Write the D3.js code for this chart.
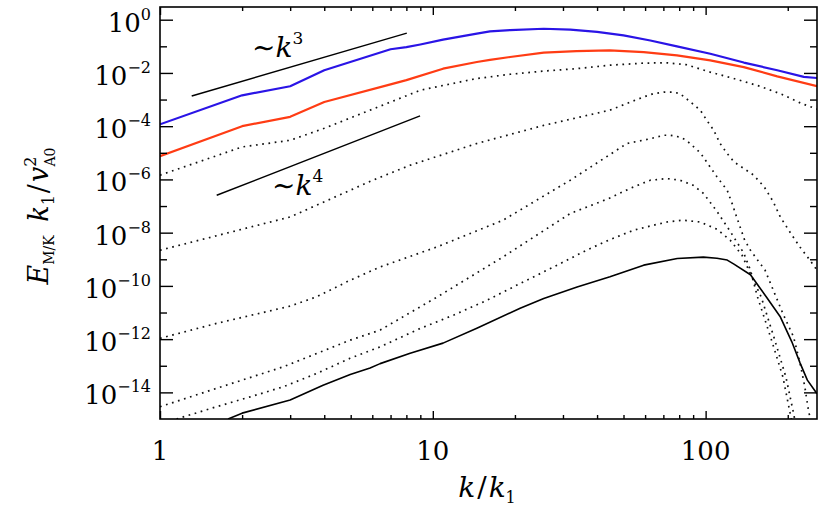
<!DOCTYPE html>
<html>
<head>
<meta charset="utf-8">
<script src="https://cdn.jsdelivr.net/npm/d3@7"></script>
<style>
body { margin: 0; background: #fff; }
text { font-family: "DejaVu Serif", "Liberation Serif", serif; fill: #000; }
</style>
</head>
<body>
<script>

// values: wavenumber k/k1 and log10 of the spectrum
var blueK   = [1, 2, 3, 4, 7, 8, 9, 10.9, 14.5, 16.2, 19.2, 25.5, 31.9, 40, 50, 62.7, 78.5, 104, 138, 183, 229, 256];
var blueLog = [-3.93, -2.84, -2.50, -1.90, -1.11, -1.03, -0.93, -0.75, -0.52, -0.44, -0.39, -0.34, -0.37, -0.46, -0.59, -0.78, -1.00, -1.28, -1.61, -1.90, -2.15, -2.19];

var redK   = [1, 2, 3, 4, 7, 8, 10.9, 14.5, 16.2, 19.2, 25.5, 33.6, 44.5, 59.3, 78.5, 104, 138, 183, 256];
var redLog = [-5.13, -4.00, -3.65, -3.09, -2.43, -2.27, -1.84, -1.59, -1.51, -1.40, -1.24, -1.18, -1.15, -1.22, -1.34, -1.53, -1.78, -2.13, -2.50];

var dot1K   = [1, 2, 3, 4, 9, 10.9, 14.5, 19.2, 25.5, 33.6, 44.5, 59.3, 72, 85, 104, 126, 158, 190, 225, 256];
var dot1Log = [-5.84, -4.78, -4.53, -4.08, -2.65, -2.47, -2.21, -2.05, -1.93, -1.84, -1.71, -1.63, -1.62, -1.69, -1.97, -2.20, -2.50, -2.80, -3.15, -3.36];

var dot2K   = [1, 2, 3, 5.9, 8.24, 14.5, 25.5, 44.5, 59.3, 64.3, 70.4, 76, 80.6, 88, 95.6, 101, 107, 113, 120, 127, 138, 150, 164, 177, 188, 205, 222, 241, 256];
var dot2Log = [-8.66, -7.87, -7.41, -6.07, -5.47, -4.65, -3.97, -3.40, -2.90, -2.78, -2.72, -2.72, -2.78, -3.09, -3.40, -3.78, -4.15, -4.65, -5.03, -5.34, -5.59, -5.84, -6.28, -6.84, -7.42, -8.02, -8.55, -9.03, -9.41];

var dot3K   = [1, 1.61, 3, 3.75, 4.97, 6.41, 10.4, 18.1, 31.9, 51.5, 62.7, 70.4, 74, 80.6, 85, 95.6, 110, 120, 125, 130, 139, 146, 155, 165, 177, 192, 210, 222, 231, 238, 242];
var dot3Log = [-11.97, -11.41, -10.76, -10.41, -9.79, -9.29, -8.53, -7.53, -6.03, -4.65, -4.47, -4.34, -4.34, -4.41, -4.53, -5.00, -5.90, -6.41, -6.90, -7.42, -8.28, -8.66, -9.03, -9.40, -10.16, -11.04, -11.91, -12.91, -13.79, -14.66, -15.0];

var dot4K   = [1, 1.61, 2.83, 4.97, 6.41, 10.4, 18.1, 31.9, 44.1, 52.8, 62.7, 72.1, 80.6, 90, 98.3, 110, 123, 138, 146, 155, 173, 192, 204, 206];
var dot4Log = [-14.54, -13.85, -13.04, -12.04, -11.66, -10.41, -8.91, -7.28, -6.72, -6.34, -6.03, -5.97, -6.03, -6.22, -6.53, -7.20, -7.95, -8.77, -9.41, -10.42, -11.92, -13.42, -14.78, -15.0];

var dot5K   = [1.15, 1.61, 2.14, 2.83, 3.75, 4.97, 6.41, 8.99, 11.9, 15.8, 20.9, 27.7, 36.6, 44.1, 54.4, 62.7, 72.1, 82.7, 95.6, 110, 123, 136, 144, 160, 178, 197, 210, 212];
var dot5Log = [-15.0, -14.54, -14.17, -13.79, -13.29, -12.72, -12.29, -11.60, -11.10, -10.54, -9.91, -9.29, -8.66, -8.28, -7.91, -7.75, -7.60, -7.53, -7.60, -7.87, -8.28, -8.85, -9.41, -10.43, -11.93, -13.43, -14.78, -15.0];

var solidK   = [1.776, 2, 3, 3.96, 4.98, 5.89, 6.41, 8.26, 10.9, 14.5, 20.9, 25.5, 33.8, 44.6, 59.3, 78.7, 98.1, 110, 120, 127, 146, 167, 188, 207, 222, 236, 256];
var solidLog = [-15.0, -14.78, -14.29, -13.73, -13.33, -13.08, -12.92, -12.53, -12.15, -11.59, -10.84, -10.47, -10.04, -9.66, -9.22, -8.97, -8.92, -8.96, -9.03, -9.18, -9.58, -10.42, -11.17, -12.10, -12.90, -13.54, -14.05];

// power law guide lines: [kStart, kEnd], log10 E at kStart
var k3Range = [1.307, 8.03], k3Start = -2.867;
var k4Range = [1.614, 8.98], k4Start = -6.594;

var xMajor = [1, 10, 100];
var xMinor = [2, 3, 4, 5, 6, 7, 8, 9, 20, 30, 40, 50, 60, 70, 80, 90, 200];
var yLabelExp = [0, -2, -4, -6, -8, -10, -12, -14];
var yMinorExp = [-1, -3, -5, -7, -9, -11, -13];

var W = 830, H = 507;
var L = 160, R = 817, T = 7, B = 419;

var svg = d3.select("body").append("svg")
	.attr("width", W)
	.attr("height", H);

var x = d3.scaleLog().domain([1, 256]).range([L, R]);
var y = d3.scaleLog().domain([1e-15, 3]).range([B, T]);

function pts(ks, logs) {
	return ks.map(function(k, i) { return [k, Math.pow(10, logs[i])]; });
}

svg.append("clipPath").attr("id", "plotclip")
	.append("rect").attr("x", L).attr("y", T).attr("width", R - L).attr("height", B - T);

var line = d3.line()
	.x(function(d) { return x(d[0]); })
	.y(function(d) { return y(d[1]); });

var plot = svg.append("g").attr("clip-path", "url(#plotclip)");

// dotted curves first, then solid ones on top
var dotted = [[dot1K, dot1Log], [dot2K, dot2Log], [dot3K, dot3Log], [dot4K, dot4Log], [dot5K, dot5Log]];
dotted.forEach(function(s) {
	plot.append("path")
		.attr("d", line(pts(s[0], s[1])))
		.attr("fill", "none")
		.attr("stroke", "#111")
		.attr("stroke-width", 1.7)
		.attr("stroke-linejoin", "round")
		.attr("stroke-dasharray", "1.7,4.6");
});

plot.append("path")
	.attr("d", line(pts(solidK, solidLog)))
	.attr("fill", "none").attr("stroke", "#000").attr("stroke-width", 1.6)
	.attr("stroke-linejoin", "round");

plot.append("path")
	.attr("d", line(pts(redK, redLog)))
	.attr("fill", "none").attr("stroke", "#ff3c14").attr("stroke-width", 2.2)
	.attr("stroke-linejoin", "round");

plot.append("path")
	.attr("d", line(pts(blueK, blueLog)))
	.attr("fill", "none").attr("stroke", "#2a14e6").attr("stroke-width", 2.2)
	.attr("stroke-linejoin", "round");

// guide lines ~k^3 and ~k^4
function guide(range, start, slope) {
	return range.map(function(k) {
		return [k, Math.pow(10, start + slope * Math.log10(k / range[0]))];
	});
}
plot.append("path").attr("d", line(guide(k3Range, k3Start, 3)))
	.attr("fill", "none").attr("stroke", "#000").attr("stroke-width", 1.4);
plot.append("path").attr("d", line(guide(k4Range, k4Start, 4)))
	.attr("fill", "none").attr("stroke", "#000").attr("stroke-width", 1.4);

// axes: ticks point inwards, labels drawn separately
var axStyle = function(g) {
	g.selectAll("path").remove();
	g.selectAll("line").attr("stroke", "#000").attr("stroke-width", 1.4);
};
svg.append("g").attr("transform", "translate(0," + B + ")")
	.call(d3.axisBottom(x).tickValues(xMajor).tickSize(-8).tickFormat("")).call(axStyle);
svg.append("g").attr("transform", "translate(0," + B + ")")
	.call(d3.axisBottom(x).tickValues(xMinor).tickSize(-4).tickFormat("")).call(axStyle);
svg.append("g").attr("transform", "translate(0," + T + ")")
	.call(d3.axisTop(x).tickValues(xMajor).tickSize(-8).tickFormat("")).call(axStyle);
svg.append("g").attr("transform", "translate(0," + T + ")")
	.call(d3.axisTop(x).tickValues(xMinor).tickSize(-4).tickFormat("")).call(axStyle);

var yMajorVals = yLabelExp.map(function(e) { return Math.pow(10, e); });
var yMinorVals = yMinorExp.map(function(e) { return Math.pow(10, e); });
svg.append("g").attr("transform", "translate(" + L + ",0)")
	.call(d3.axisLeft(y).tickValues(yMajorVals).tickSize(-13).tickFormat("")).call(axStyle);
svg.append("g").attr("transform", "translate(" + L + ",0)")
	.call(d3.axisLeft(y).tickValues(yMinorVals).tickSize(-7).tickFormat("")).call(axStyle);
svg.append("g").attr("transform", "translate(" + R + ",0)")
	.call(d3.axisRight(y).tickValues(yMajorVals).tickSize(-13).tickFormat("")).call(axStyle);
svg.append("g").attr("transform", "translate(" + R + ",0)")
	.call(d3.axisRight(y).tickValues(yMinorVals).tickSize(-7).tickFormat("")).call(axStyle);

svg.append("rect")
	.attr("x", L).attr("y", T).attr("width", R - L).attr("height", B - T)
	.attr("fill", "none").attr("stroke", "#000").attr("stroke-width", 1.6);

// tick labels
svg.selectAll(".xlab").data(xMajor).enter().append("text")
	.attr("class", "xlab")
	.attr("x", function(d) { return x(d); })
	.attr("y", 460)
	.attr("text-anchor", "middle")
	.style("font-size", "26px")
	.text(function(d) { return d; });

var ylab = svg.selectAll(".ylab").data(yLabelExp).enter().append("text")
	.attr("class", "ylab")
	.attr("x", 151)
	.attr("y", function(d) { return y(Math.pow(10, d)) + 12; })
	.attr("text-anchor", "end")
	.style("font-size", "26px");
ylab.append("tspan").text("10");
ylab.append("tspan")
	.attr("dy", -12)
	.style("font-size", "16px")
	.text(function(d) { return d === 0 ? "0" : "\u2212" + (-d); });

// axis titles
var xt = svg.append("text").attr("x", 487).attr("y", 497)
	.attr("text-anchor", "middle").style("font-size", "28px");
xt.append("tspan").style("font-style", "italic").text("k");
xt.append("tspan").attr("dx", 2).text("/");
xt.append("tspan").attr("dx", 2).style("font-style", "italic").text("k");
xt.append("tspan").attr("dy", 6).style("font-size", "16px").text("1");

var yt = svg.append("text")
	.attr("transform", "translate(48,216) rotate(-90)")
	.attr("text-anchor", "middle").style("font-size", "27px");
yt.append("tspan").style("font-style", "italic").text("E");
yt.append("tspan").attr("dy", 6).style("font-size", "14px").text("M/K");
yt.append("tspan").attr("dy", -6).text("\u2002");
yt.append("tspan").style("font-style", "italic").text("k");
yt.append("tspan").attr("dy", 6).style("font-size", "16px").text("1");
yt.append("tspan").attr("dy", -6).attr("dx", 2).text("/");
yt.append("tspan").attr("dx", 2).style("font-style", "italic").text("v");
yt.append("tspan").attr("dy", -12).style("font-size", "16px").text("2");
yt.append("tspan").attr("dx", -10).attr("dy", 19).style("font-size", "14px").text("A0");

// guide labels
var g3 = svg.append("text").attr("x", 252).attr("y", 57).style("font-size", "28px");
g3.append("tspan").text("\u223c");
g3.append("tspan").style("font-style", "italic").text("k");
g3.append("tspan").attr("dy", -13).style("font-size", "17px").text("3");

var g4 = svg.append("text").attr("x", 272).attr("y", 195).style("font-size", "28px");
g4.append("tspan").text("\u223c");
g4.append("tspan").style("font-style", "italic").text("k");
g4.append("tspan").attr("dy", -13).style("font-size", "17px").text("4");

</script>
</body>
</html>
